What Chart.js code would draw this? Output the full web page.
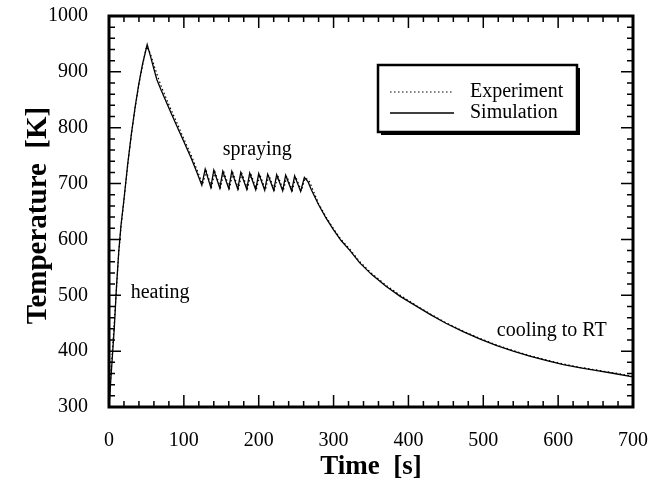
<!DOCTYPE html>
<html>
<head>
<meta charset="utf-8">
<script src="https://cdn.jsdelivr.net/npm/chart.js@4.4.0/dist/chart.umd.min.js"></script>
<style>
  html, body { margin: 0; padding: 0; background: #fff; }
  #wrap { width: 649px; height: 483px; }
</style>
</head>
<body>
<div id="wrap"><canvas id="chart"></canvas></div>
<script>
// Temperature history: heating, spraying, cooling to RT

const FONT = '"Liberation Serif", "Times New Roman", serif';

// x / y ticks
const xTicks = [0, 100, 200, 300, 400, 500, 600, 700];
const yTicks = [300, 400, 500, 600, 700, 800, 900, 1000];

// Simulation (solid)
const simTime = [0, 2, 4, 7, 10, 13, 16, 20, 25, 30, 35, 40, 45, 51,
  55, 60, 64, 70, 81, 90, 99, 110, 118, 124,
  128.5, 136, 140, 148, 152, 160, 164, 172, 176, 184, 188, 196, 200, 208, 212, 220, 224, 232, 236, 244, 248, 256, 261, 266,
  270, 280, 290, 300, 310, 322, 335, 351, 370, 389, 410, 430, 450, 473, 495, 518, 540, 562, 585, 607, 630, 652, 675, 700];
const simTemp = [300, 340, 380, 440, 515, 578, 625, 672, 735, 790, 838, 880, 915, 949,
  930, 905, 886, 866, 832, 805, 778, 745, 718, 697,
  726, 693, 724, 692, 722, 691, 722, 690, 720, 690, 719, 689, 718, 688, 717, 688, 716, 687, 715, 687, 714, 686, 711, 703,
  690, 662, 638, 617, 598, 580, 558, 537, 516, 498, 481, 465, 450, 435, 422, 410, 400, 391, 383, 376, 370, 365, 360, 354];

// Experiment (dotted)
const expTime = [0, 1, 3, 6, 10, 13, 16, 20, 25, 30, 35, 40, 45, 50,
  55, 60, 65, 70, 81, 90, 99, 110, 118, 125,
  130, 137, 141.5, 149, 153.5, 161, 165.5, 173, 177.5, 185, 189.5, 197, 201.5, 209, 213.5, 221, 225.5, 233, 237.5, 245, 249.5, 257, 262, 267,
  272, 280, 290, 300, 310, 322, 335, 351, 370, 389, 410, 430, 450, 473, 495, 518, 540, 562, 585, 607, 630, 652, 675, 700];
const expTemp = [300, 330, 370, 430, 512, 575, 622, 670, 733, 788, 836, 878, 913, 945,
  934, 912, 892, 873, 838, 811, 783, 750, 723, 699,
  722, 694, 721, 693, 720, 692, 719, 691, 718, 691, 717, 690, 716, 689, 715, 689, 714, 688, 713, 688, 712, 687, 710, 706,
  690, 664, 640, 619, 600, 582, 560, 539, 518, 500, 482, 466, 451, 436, 423, 411, 401, 392, 384, 377, 371, 366, 361, 355];

// text notes placed in data coordinates (left edge, vertical middle)
const noteText = ['heating', 'spraying', 'cooling to RT'];
const noteTime = [29, 152, 518];
const noteTemp = [504, 760, 436];

const zip = (xs, ys) => xs.map((x, i) => ({ x, y: ys[i] }));

// frame, inward ticks, axis titles, notes and legend box
const framePlugin = {
  id: 'frame',
  afterDatasetsDraw(chart) {
    const { ctx, chartArea: a, scales } = chart;
    const xs = scales.x, ys = scales.y;
    ctx.save();
    ctx.strokeStyle = '#000';
    ctx.lineWidth = 1.5;
    ctx.beginPath();
    for (let v = 0; v <= 700; v += 20) {
      const px = xs.getPixelForValue(v);
      const len = v % 100 === 0 ? 12 : 6;
      ctx.moveTo(px, a.bottom); ctx.lineTo(px, a.bottom - len);
      ctx.moveTo(px, a.top); ctx.lineTo(px, a.top + len);
    }
    for (let v = 300; v <= 1000; v += 20) {
      const py = ys.getPixelForValue(v);
      const len = v % 100 === 0 ? 12 : 6;
      ctx.moveTo(a.left, py); ctx.lineTo(a.left + len, py);
      ctx.moveTo(a.right, py); ctx.lineTo(a.right - len, py);
    }
    ctx.stroke();

    ctx.lineWidth = 3;
    ctx.strokeRect(a.left, a.top, a.right - a.left, a.bottom - a.top);

    // notes
    ctx.fillStyle = '#000';
    ctx.font = '20px ' + FONT;
    ctx.textAlign = 'left';
    ctx.textBaseline = 'middle';
    noteText.forEach((t, i) => {
      ctx.fillText(t, xs.getPixelForValue(noteTime[i]), ys.getPixelForValue(noteTemp[i]));
    });

    // legend box with shadow
    const bx = 378, by = 65, bw = 199, bh = 67;
    ctx.fillStyle = '#000';
    ctx.fillRect(bx + 3, by + 3, bw, bh);
    ctx.fillStyle = '#fff';
    ctx.fillRect(bx, by, bw, bh);
    ctx.lineWidth = 2.5;
    ctx.strokeRect(bx, by, bw, bh);
    chart.data.datasets.forEach((ds, i) => {
      const ly = by + 27 + i * 21;
      ctx.lineWidth = ds.borderWidth;
      ctx.setLineDash(ds.borderDash || []);
      ctx.beginPath();
      ctx.moveTo(bx + 12, ly); ctx.lineTo(bx + 76, ly);
      ctx.stroke();
      ctx.setLineDash([]);
      ctx.fillStyle = '#000';
      ctx.fillText(ds.label, bx + 92, ly);
    });

    // axis titles
    ctx.font = 'bold 27px ' + FONT;
    ctx.textAlign = 'center';
    ctx.fillText('Time  [s]', (a.left + a.right) / 2, 467);
    ctx.font = 'bold 29px ' + FONT;
    ctx.translate(39, (a.top + a.bottom) / 2 + 4);
    ctx.rotate(-Math.PI / 2);
    ctx.fillText('Temperature  [K]', 0, 0);
    ctx.restore();
  }
};

const config = {
  type: 'line',
  data: {
    datasets: [
      {
        label: 'Experiment',
        data: zip(expTime, expTemp),
        borderColor: '#000',
        borderWidth: 1.2,
        borderDash: [1.5, 2.5],
        pointRadius: 0,
        tension: 0,
      },
      {
        label: 'Simulation',
        data: zip(simTime, simTemp),
        borderColor: '#000',
        borderWidth: 1.3,
        pointRadius: 0,
        tension: 0,
      },
    ],
  },
  options: {
    responsive: false,
    animation: false,
    layout: { padding: { left: 0, top: 16, right: 16, bottom: 0 } },
    scales: {
      x: {
        type: 'linear',
        min: 0,
        max: 700,
        afterBuildTicks: (s) => { s.ticks = xTicks.map((v) => ({ value: v })); },
        afterFit: (s) => { s.height = 76; s.paddingLeft = 0; s.paddingRight = 0; },
        ticks: { color: '#000', font: { family: FONT, size: 20 }, padding: 22, maxRotation: 0, callback: (v) => String(v) },
        grid: { display: false, drawTicks: false },
        border: { display: false },
      },
      y: {
        min: 300,
        max: 1000,
        afterBuildTicks: (s) => { s.ticks = yTicks.map((v) => ({ value: v })); },
        afterFit: (s) => { s.width = 109; s.paddingTop = 0; s.paddingBottom = 0; },
        ticks: { color: '#000', font: { family: FONT, size: 20 }, padding: 21, callback: (v) => String(v) },
        grid: { display: false, drawTicks: false },
        border: { display: false },
      },
    },
    plugins: {
      legend: { display: false },
      tooltip: { enabled: false },
    },
  },
  plugins: [framePlugin],
};

const canvas = document.getElementById('chart');
canvas.width = 649;
canvas.height = 483;
new Chart(canvas, config);
</script>
</body>
</html>
